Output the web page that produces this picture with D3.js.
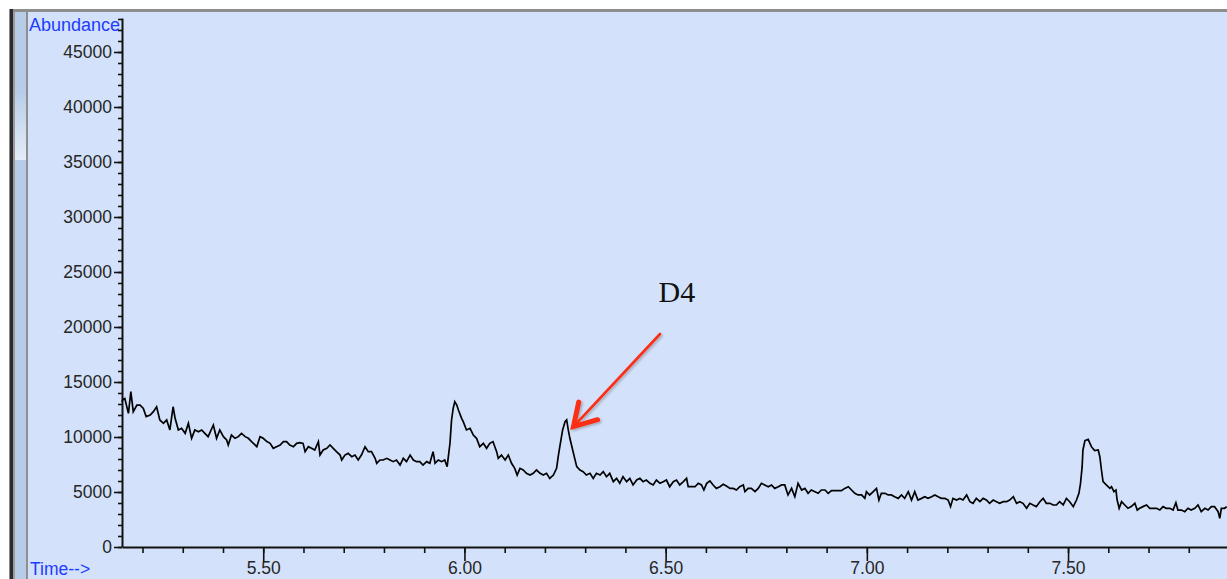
<!DOCTYPE html>
<html><head><meta charset="utf-8">
<script src="https://cdn.jsdelivr.net/npm/d3@7"></script>
<style>html,body{margin:0;padding:0;background:#fff;overflow:hidden}</style>
</head><body>
<svg id="chart" width="1227" height="579"></svg>
<script>
// ---- data (time in minutes, abundance) ----
const tic = [
[5.149,13200],[5.151,13400],[5.156,13500],[5.165,12150],[5.171,14120],[5.177,12300],[5.186,12900],[5.194,12900],
[5.202,12600],[5.209,11850],[5.219,12000],[5.227,12300],[5.235,12750],[5.243,11550],[5.252,11240],[5.260,11550],
[5.268,10640],[5.276,12750],[5.281,11700],[5.289,10640],[5.297,10790],[5.306,10330],[5.314,11240],[5.322,9880],
[5.330,10640],[5.339,10480],[5.347,10640],[5.355,10330],[5.363,10030],[5.376,11090],[5.384,9880],[5.392,10640],
[5.401,10030],[5.409,9730],[5.413,9270],[5.421,10180],[5.430,9880],[5.438,10030],[5.446,10330],[5.455,10030],
[5.463,9880],[5.471,9580],[5.484,9120],[5.492,10030],[5.500,9880],[5.509,9580],[5.517,9420],[5.525,8970],
[5.533,9120],[5.542,9270],[5.550,9580],[5.558,9580],[5.566,9270],[5.575,9120],[5.583,9420],[5.591,9480],
[5.599,9420],[5.604,8670],[5.612,9120],[5.620,8970],[5.628,8820],[5.637,9580],[5.641,8360],[5.649,8820],
[5.658,8970],[5.666,9270],[5.674,8970],[5.682,8670],[5.691,8360],[5.695,7910],[5.703,8360],[5.711,8510],
[5.720,8210],[5.728,8360],[5.736,7910],[5.744,8360],[5.753,9120],[5.761,8670],[5.769,8670],[5.778,8060],
[5.782,7610],[5.790,7910],[5.798,7910],[5.807,8060],[5.815,7910],[5.823,7760],[5.831,7910],[5.840,7450],
[5.848,8060],[5.856,7760],[5.865,8360],[5.873,7910],[5.881,7760],[5.889,7760],[5.897,7450],[5.906,7760],
[5.914,7610],[5.922,8670],[5.927,7610],[5.935,7910],[5.943,7760],[5.951,7910],[5.957,7300],[5.964,9420],
[5.968,11550],[5.972,12600],[5.976,13210],[5.981,12900],[5.985,12450],[5.993,11700],[5.997,11390],[6.005,10640],
[6.014,10790],[6.022,10180],[6.030,9880],[6.038,9120],[6.047,9420],[6.055,8970],[6.063,9420],[6.071,9580],
[6.080,8670],[6.084,8060],[6.092,8360],[6.101,7910],[6.109,8360],[6.117,7610],[6.125,7150],[6.131,6540],
[6.138,7150],[6.146,7000],[6.154,6700],[6.163,6540],[6.171,6700],[6.179,7000],[6.188,6700],[6.196,6540],
[6.204,6700],[6.212,6240],[6.221,6540],[6.229,7150],[6.233,8210],[6.237,9120],[6.244,10640],[6.250,11390],
[6.254,11550],[6.258,10640],[6.262,9880],[6.269,8820],[6.274,8060],[6.279,7300],[6.287,7000],[6.295,6850],
[6.303,6540],[6.312,6700],[6.320,6240],[6.328,6700],[6.337,6540],[6.345,6850],[6.353,6390],[6.361,6700],
[6.370,5940],[6.378,6240],[6.386,5790],[6.394,6390],[6.403,5940],[6.411,6240],[6.419,5640],[6.428,6090],
[6.436,6240],[6.444,5940],[6.452,6090],[6.461,5790],[6.469,5640],[6.477,6090],[6.486,5790],[6.494,5940],
[6.502,6090],[6.510,5480],[6.519,5940],[6.527,6090],[6.535,5640],[6.544,5940],[6.552,6240],[6.556,5480],
[6.564,5480],[6.573,5480],[6.581,5790],[6.589,5640],[6.595,5180],[6.602,5790],[6.610,6000],[6.618,5640],
[6.626,5330],[6.635,5480],[6.643,5700],[6.651,5540],[6.660,5330],[6.668,5330],[6.676,5180],[6.684,5480],
[6.693,5640],[6.697,5030],[6.705,5330],[6.713,5330],[6.722,5030],[6.730,5330],[6.738,5790],[6.746,5640],
[6.755,5480],[6.763,5640],[6.771,5330],[6.780,5480],[6.788,5640],[6.796,5640],[6.804,4730],[6.813,5330],
[6.821,4570],[6.829,5790],[6.838,5180],[6.846,5330],[6.854,4880],[6.862,5180],[6.871,5030],[6.879,4880],
[6.887,5180],[6.896,5180],[6.904,4880],[6.912,5120],[6.925,5120],[6.937,5120],[6.945,5330],[6.954,5480],
[6.962,5180],[6.970,4880],[6.978,4730],[6.987,4730],[6.995,4420],[6.999,5030],[7.007,4730],[7.016,5030],
[7.024,5330],[7.030,4270],[7.036,4880],[7.045,4880],[7.053,4730],[7.061,4730],[7.069,4570],[7.078,4420],
[7.086,4730],[7.094,4420],[7.103,5030],[7.111,4270],[7.119,5030],[7.127,4270],[7.136,4420],[7.144,4570],
[7.152,4420],[7.161,4570],[7.169,4730],[7.177,4570],[7.185,4420],[7.194,4420],[7.202,4270],[7.208,3670],
[7.214,4420],[7.223,4270],[7.231,4420],[7.239,4270],[7.248,4730],[7.256,4120],[7.264,3970],[7.272,4420],
[7.281,4120],[7.289,4420],[7.297,4270],[7.305,3970],[7.314,4270],[7.322,4120],[7.330,3970],[7.339,4120],
[7.347,4120],[7.355,4270],[7.364,4570],[7.372,3970],[7.380,4120],[7.388,3970],[7.397,3520],[7.405,3970],
[7.413,3820],[7.421,3670],[7.430,4120],[7.438,4420],[7.446,3970],[7.455,3970],[7.463,3820],[7.471,3820],
[7.479,4120],[7.488,3820],[7.496,4420],[7.504,4120],[7.513,3670],[7.521,4270],[7.527,4880],[7.531,5790],
[7.535,7300],[7.537,8820],[7.542,9670],[7.550,9790],[7.558,9120],[7.566,8760],[7.575,8820],[7.579,8210],
[7.583,7000],[7.587,5940],[7.595,5640],[7.604,5330],[7.608,5480],[7.614,5030],[7.619,5180],[7.622,4270],
[7.627,3520],[7.633,4120],[7.641,3820],[7.649,3520],[7.657,3670],[7.666,3970],[7.672,3360],[7.678,3520],
[7.686,3670],[7.695,3820],[7.703,3520],[7.711,3520],[7.720,3520],[7.728,3360],[7.736,3670],[7.744,3520],
[7.753,3520],[7.761,3360],[7.768,4030],[7.773,3360],[7.782,3360],[7.790,3210],[7.798,3520],[7.806,3360],
[7.815,3520],[7.823,3820],[7.831,3210],[7.840,3520],[7.848,3360],[7.856,3670],[7.864,3670],[7.873,3210],
[7.877,2610],[7.881,3520],[7.889,3520],[7.894,3670]
];
const yMajorTicks = [0,5000,10000,15000,20000,25000,30000,35000,40000,45000];
const xMajorTicks = [5.5,6.0,6.5,7.0,7.5];
const xTickLabels = ["5.50","6.00","6.50","7.00","7.50"];
const yAxisTitle = "Abundance";
const xAxisTitle = "Time-->";
const annotationLabel = "D4";
const annotationLabelPos = [6.528, 22270];
const arrowFrom = [6.486, 19360];
const arrowTo = [6.271, 10950];

(function () {
// ---- layout ----
const W = 1227, H = 579;
const pLeft = 122, pRight = 1227, pTop = 18, pBottom = 547;
const svg = d3.select("#chart");
const FONT = "'Liberation Sans', Arial, sans-serif";

// window frame
svg.append("rect").attr("width", W).attr("height", H).attr("fill", "#ffffff");
svg.append("rect").attr("x", 9).attr("y", 9).attr("width", W - 9).attr("height", 3).attr("fill", "#8e8e8e");
svg.append("rect").attr("x", 9).attr("y", 9).attr("width", 1).attr("height", H - 9).attr("fill", "#8a8a8a");
svg.append("rect").attr("x", 10).attr("y", 9).attr("width", 3).attr("height", H - 9).attr("fill", "#2b2b2b");
svg.append("rect").attr("x", 13).attr("y", 12).attr("width", 2).attr("height", H - 12).attr("fill", "#9c9c9c");
svg.append("rect").attr("x", 15).attr("y", 12).attr("width", 11).attr("height", H - 12).attr("fill", "#b6cce7");
const defs = svg.append("defs");
const g1 = defs.append("linearGradient").attr("id", "thumb").attr("x1", 0).attr("y1", 0).attr("x2", 0).attr("y2", 1);
g1.append("stop").attr("offset", "0%").attr("stop-color", "#b9cee8");
g1.append("stop").attr("offset", "100%").attr("stop-color", "#e4edf8");
svg.append("rect").attr("x", 15).attr("y", 93).attr("width", 11).attr("height", 67).attr("fill", "url(#thumb)");
svg.append("rect").attr("x", 26).attr("y", 12).attr("width", 2).attr("height", H - 12).attr("fill", "#8f8f8f");
svg.append("rect").attr("x", 28).attr("y", 12).attr("width", W - 28).attr("height", H - 12).attr("fill", "#d3e2fa");

// scales
const x = d3.scaleLinear().domain([5.149, 7.895]).range([pLeft, pRight]);
const y = d3.scaleLinear().domain([0, 48090]).range([pBottom, pTop]);

// y axis
const yMinor = svg.append("g").attr("transform", `translate(${pLeft},0)`)
  .call(d3.axisLeft(y).tickValues(d3.range(0, 48001, 1000)).tickSize(4).tickSizeOuter(0).tickFormat(""));
yMinor.select(".domain").remove();
const yAx = svg.append("g").attr("transform", `translate(${pLeft},0)`)
  .call(d3.axisLeft(y).tickValues(yMajorTicks).tickSize(8).tickPadding(2).tickSizeOuter(0).tickFormat(d3.format("d")));
// x axis
const xMinor = svg.append("g").attr("transform", `translate(0,${pBottom})`)
  .call(d3.axisBottom(x).tickValues(d3.range(5.2, 7.85, 0.1)).tickSize(6).tickSizeOuter(0).tickFormat(""));
xMinor.select(".domain").remove();
const xAx = svg.append("g").attr("transform", `translate(0,${pBottom})`)
  .call(d3.axisBottom(x).tickValues(xMajorTicks).tickSize(14).tickPadding(1).tickSizeOuter(0)
    .tickFormat((d, i) => xTickLabels[i]));

svg.selectAll(".tick line").attr("stroke", "#111").attr("stroke-width", 1.6);
[yAx, xAx].forEach(a => {
  a.select(".domain").attr("stroke", "#111").attr("stroke-width", 2);
  a.selectAll("text").attr("font-family", FONT).attr("font-size", "17.5px").attr("fill", "#262626");
});

// axis titles
svg.append("text").attr("x", 29).attr("y", 30.5).text(yAxisTitle)
  .attr("font-family", FONT).attr("font-size", "18px").attr("fill", "#1d3cff");
svg.append("text").attr("x", 30).attr("y", 575).text(xAxisTitle)
  .attr("font-family", FONT).attr("font-size", "17.5px").attr("fill", "#1d3cff");

// trace
const line = d3.line().x(d => x(d[0])).y(d => y(d[1]));
svg.append("path").datum(tic).attr("d", line)
  .attr("fill", "none").attr("stroke", "#000").attr("stroke-width", 1.7).attr("stroke-linejoin", "miter");

// annotation
const flt = defs.append("filter").attr("id", "sh").attr("x", "-20%").attr("y", "-20%").attr("width", "140%").attr("height", "140%");
flt.append("feDropShadow").attr("dx", 1.5).attr("dy", 1.5).attr("stdDeviation", 1.2).attr("flood-color", "#000").attr("flood-opacity", 0.25);
const ax0 = x(arrowFrom[0]), ay0 = y(arrowFrom[1]), ax1 = x(arrowTo[0]), ay1 = y(arrowTo[1]);
const ang = Math.atan2(ay0 - ay1, ax0 - ax1);
const hl = 25, ha = 31 * Math.PI / 180;
const ag = svg.append("g").attr("filter", "url(#sh)");
ag.append("line").attr("x1", ax0).attr("y1", ay0).attr("x2", ax1 + 3 * Math.cos(ang)).attr("y2", ay1 + 3 * Math.sin(ang))
  .attr("stroke", "#fb2d15").attr("stroke-width", 2.7).attr("stroke-linecap", "round");
ag.append("path")
  .attr("d", `M${ax1 + hl * Math.cos(ang - ha)},${ay1 + hl * Math.sin(ang - ha)} L${ax1},${ay1} L${ax1 + hl * Math.cos(ang + ha)},${ay1 + hl * Math.sin(ang + ha)}`)
  .attr("fill", "none").attr("stroke", "#fb2d15").attr("stroke-width", 5)
  .attr("stroke-linecap", "round").attr("stroke-linejoin", "miter");
svg.append("text").attr("x", x(annotationLabelPos[0])).attr("y", y(annotationLabelPos[1]))
  .attr("text-anchor", "middle").text(annotationLabel)
  .attr("font-family", "'Liberation Serif', 'Times New Roman', serif").attr("font-size", "30px").attr("fill", "#111");
})();
</script>
</body></html>
